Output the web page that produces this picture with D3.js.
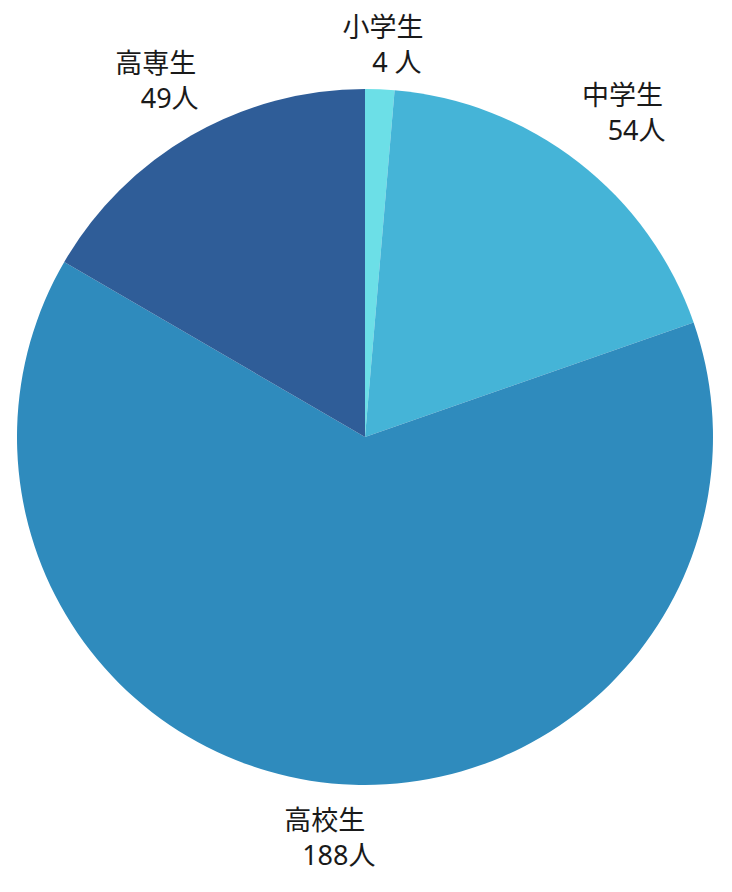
<!DOCTYPE html>
<html>
<head>
<meta charset="utf-8">
<script src="https://cdn.jsdelivr.net/npm/d3@7"></script>
<style>
  body { margin: 0; background: #fff; }
</style>
</head>
<body>
<script>
// ---------- DATA ----------
var categories = ["小学生", "中学生", "高校生", "高専生"];
var counts = [4, 54, 188, 49];
var countLabels = ["4 人", "54人", "188人", "49人"];
var colors = ["#6cdfe7", "#45b4d7", "#2f8bbd", "#2f5d98"];

// ---------- DIMENSIONS ----------
var w = 732, h = 892;
var cx = 365, cy = 437;
var radius = 348;
var labelR = 420;

var svg = d3.select("body").append("svg")
  .attr("width", w)
  .attr("height", h);

var g = svg.append("g")
  .attr("transform", "translate(" + cx + "," + cy + ")");

var data = categories.map((c, i) => ({ name: c, value: counts[i], label: countLabels[i], color: colors[i] }));

var pie = d3.pie()
  .value(d => d.value)
  .sort(null);

var arc = d3.arc().innerRadius(0).outerRadius(radius);
var labelArc = d3.arc().innerRadius(labelR).outerRadius(labelR);

var arcs = pie(data);

g.selectAll("path")
  .data(arcs)
  .enter()
  .append("path")
  .attr("d", arc)
  .attr("fill", d => d.data.color);

// labels: two lines, second line nudged right
var font = "'Noto Sans', 'Noto Sans CJK JP', sans-serif";

var lab = g.selectAll("g.lab")
  .data(arcs)
  .enter()
  .append("g")
  .attr("class", "lab")
  .attr("transform", function(d) {
    var p = labelArc.centroid(d);
    var y = p[1];
    if (y > 0) y -= 25;          // bottom labels sit a bit higher
    y = Math.max(y, 37 - cy);    // keep inside the top edge
    return "translate(" + p[0] + "," + y + ")";
  });

lab.append("text")
  .text(d => d.data.name)
  .attr("text-anchor", "middle")
  .attr("font-family", font)
  .attr("font-size", "27px")
  .attr("fill", "#1a1a1a");

lab.append("text")
  .text(d => d.data.label)
  .attr("x", 14)
  .attr("y", 35)
  .attr("text-anchor", "middle")
  .attr("font-family", font)
  .attr("font-size", "27px")
  .attr("fill", "#1a1a1a");
</script>
</body>
</html>
